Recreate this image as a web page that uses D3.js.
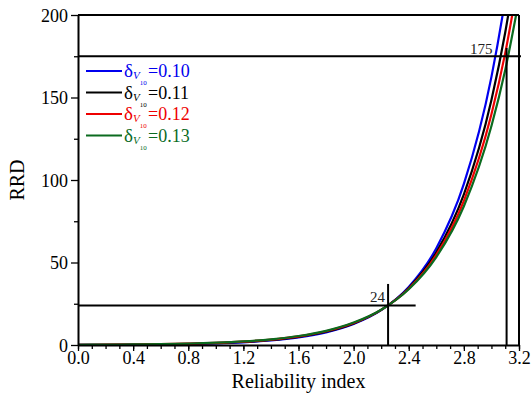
<!DOCTYPE html>
<html>
<head>
<meta charset="utf-8">
<script src="https://cdn.jsdelivr.net/npm/d3@7"></script>
<style>
  body { margin: 0; background: #fff; }
</style>
</head>
<body>
<div id="chart"></div>
<script>
// reliability index values where the curves were read
const beta = [0.0, 0.2, 0.4, 0.6, 0.8, 1.0, 1.2, 1.4, 1.6, 1.8, 2.0, 2.2, 2.4, 2.6, 2.8, 3.0, 3.1, 3.2];

// RRD for each delta_V10
const rrd010 = [0.08, 0.13, 0.21, 0.36, 0.59, 0.99, 1.65, 2.75, 4.57, 7.62, 12.7, 21.1, 35.2, 58.6, 97.6, 162.5, 209.7, 270];
const rrd011 = [0.10, 0.16, 0.27, 0.44, 0.71, 1.15, 1.87, 3.04, 4.95, 8.04, 13.1, 21.3, 34.6, 56.2, 91.3, 148.5, 189.4, 241.4];
const rrd012 = [0.12, 0.19, 0.31, 0.50, 0.79, 1.27, 2.03, 3.26, 5.21, 8.34, 13.3, 21.3, 34.1, 54.6, 87.4, 139.8, 176.9, 223.8];
const rrd013 = [0.14, 0.22, 0.35, 0.56, 0.88, 1.39, 2.19, 3.46, 5.45, 8.60, 13.6, 21.4, 33.8, 53.3, 84.1, 132.7, 166.7, 209.4];

const seriesNames = ["0.10", "0.11", "0.12", "0.13"];
const seriesValues = [rrd010, rrd011, rrd012, rrd013];
const colors = ["#0000ee", "#000000", "#ee0000", "#0b6b1f"];

// marked points
const markBeta = [2.25, 3.11];
const markRRD = [24, 175];

const xTicks = [0.0, 0.4, 0.8, 1.2, 1.6, 2.0, 2.4, 2.8, 3.2];
const yTicks = [0, 50, 100, 150, 200];

const serif = "'Liberation Serif'";

const width = 531, height = 395;
const margin = {left: 78, right: 12, top: 15, bottom: 50};

const svg = d3.select("#chart")
  .append("svg")
    .attr("width", width)
    .attr("height", height);

const x = d3.scaleLinear().domain([0, 3.2]).range([margin.left, width - margin.right]);
const y = d3.scaleLinear().domain([0, 200]).range([height - margin.bottom, margin.top]);

svg.append("clipPath").attr("id", "plot")
  .append("rect")
    .attr("x", x(0)).attr("y", y(200))
    .attr("width", x(3.2) - x(0)).attr("height", y(0) - y(200));

// curves
const line = d3.line()
  .x(d => x(d[0]))
  .y(d => y(d[1]))
  .curve(d3.curveMonotoneX);

seriesValues.forEach(function(vals, i) {
  svg.append("path")
    .datum(beta.map((b, j) => [b, vals[j]]))
    .attr("clip-path", "url(#plot)")
    .attr("fill", "none")
    .attr("stroke", colors[i])
    .attr("stroke-width", 2.2)
    .attr("d", line);
});

// reference lines
svg.append("line")
  .attr("x1", x(0)).attr("x2", x(2.45))
  .attr("y1", y(markRRD[0])).attr("y2", y(markRRD[0]))
  .attr("stroke", "#000").attr("stroke-width", 2);
svg.append("line")
  .attr("x1", x(markBeta[0])).attr("x2", x(markBeta[0]))
  .attr("y1", y(0)).attr("y2", y(37))
  .attr("stroke", "#000").attr("stroke-width", 2);
svg.append("line")
  .attr("x1", x(0)).attr("x2", x(3.2) + 2)
  .attr("y1", y(markRRD[1])).attr("y2", y(markRRD[1]))
  .attr("stroke", "#000").attr("stroke-width", 2);
svg.append("line")
  .attr("x1", x(markBeta[1])).attr("x2", x(markBeta[1]))
  .attr("y1", y(0)).attr("y2", y(180))
  .attr("stroke", "#000").attr("stroke-width", 2);

svg.append("text")
  .attr("x", x(markBeta[0]) - 3).attr("y", y(markRRD[0]) - 3)
  .attr("text-anchor", "end")
  .style("font-family", serif).style("font-size", "15px").style("fill", "#222")
  .text(markRRD[0]);
svg.append("text")
  .attr("x", x(markBeta[1]) - 14).attr("y", y(markRRD[1]) - 2)
  .attr("text-anchor", "end")
  .style("font-family", serif).style("font-size", "15px").style("fill", "#222")
  .text(markRRD[1]);

// axes
const xAxis = svg.append("g")
  .attr("transform", `translate(0,${y(0)})`)
  .call(d3.axisBottom(x).tickValues(xTicks).tickFormat(d3.format(".1f")).tickSize(6).tickSizeOuter(0));
svg.append("g")
  .attr("transform", `translate(0,${y(0)})`)
  .call(d3.axisBottom(x).tickValues(d3.range(0, 33).map(i => i / 10)).tickFormat("").tickSize(4).tickSizeOuter(0))
  .select(".domain").remove();

const yAxis = svg.append("g")
  .attr("transform", `translate(${x(0)},0)`)
  .call(d3.axisLeft(y).tickValues(yTicks).tickSize(7).tickSizeOuter(0));
svg.append("g")
  .attr("transform", `translate(${x(0)},0)`)
  .call(d3.axisLeft(y).tickValues([25, 75, 125, 175]).tickFormat("").tickSize(4).tickSizeOuter(0))
  .select(".domain").remove();

svg.selectAll(".tick line").attr("stroke", "#000").attr("stroke-width", 1.3);
svg.selectAll(".domain").attr("stroke", "#000").attr("stroke-width", 2);
xAxis.selectAll("text").style("font-family", serif).style("font-size", "18px").style("fill", "#000").attr("dy", "0.8em").attr("y", 5);
yAxis.selectAll("text").style("font-family", serif).style("font-size", "18px").style("fill", "#000").attr("x", -10).attr("dy", "0.35em");

// box top / right
svg.append("line")
  .attr("x1", x(0)).attr("x2", x(3.2)).attr("y1", y(200)).attr("y2", y(200))
  .attr("stroke", "#000").attr("stroke-width", 2);
svg.append("line")
  .attr("x1", x(3.2)).attr("x2", x(3.2)).attr("y1", y(200)).attr("y2", y(0))
  .attr("stroke", "#000").attr("stroke-width", 2);

// axis titles
svg.append("text")
  .attr("x", (x(0) + x(3.2)) / 2).attr("y", 388)
  .attr("text-anchor", "middle")
  .style("font-family", serif).style("font-size", "20px")
  .text("Reliability index");
svg.append("text")
  .attr("transform", `translate(24,${(y(0) + y(200)) / 2}) rotate(-90)`)
  .attr("text-anchor", "middle")
  .style("font-family", serif).style("font-size", "20px")
  .text("RRD");

// legend
seriesNames.forEach(function(name, i) {
  const ly = 71 + i * 21.5;
  svg.append("line")
    .attr("x1", 86).attr("x2", 122).attr("y1", ly).attr("y2", ly)
    .attr("stroke", colors[i]).attr("stroke-width", 2.2);
  const t = svg.append("text")
    .attr("x", 124).attr("y", ly + 6)
    .style("font-family", serif)
    .style("fill", colors[i]);
  t.append("tspan").style("font-size", "19px").text("δ");
  t.append("tspan").attr("dy", 2).style("font-size", "11px").style("font-style", "italic").text("V");
  t.append("tspan").attr("dy", 6).style("font-size", "7px").text("10");
  t.append("tspan").attr("x", 148).attr("y", ly + 6).style("font-size", "18px").text("=" + name);
});
</script>
</body>
</html>
